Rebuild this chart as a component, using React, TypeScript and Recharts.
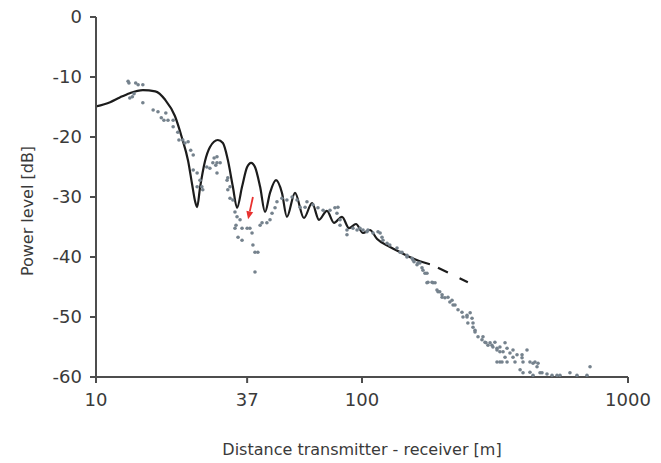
import {
  ComposedChart,
  Line,
  Scatter,
  XAxis,
  YAxis,
  ReferenceLine,
  Label,
} from 'recharts'

// Distance [m] / power level [dB]
const modelCurve: [number, number][] = [
  [10, -14.9], [11.3, -14.2], [12.3, -13.4], [13.4, -12.7], [15.0, -12.2],
  [16.7, -12.4], [18.2, -13.8], [19.8, -16.5], [21.0, -20], [22.2, -24],
  [23.0, -28], [23.6, -30.8], [24.0, -31.7], [24.6, -28.5], [25.7, -24],
  [26.8, -21.7], [28.7, -20.5], [30.0, -21], [31.3, -23.8], [32.7, -28.3],
  [33.9, -31.8], [35.4, -28.3], [37.0, -25], [38.3, -24.3], [39.6, -25],
  [41.4, -28.3], [43.2, -32.5], [45.1, -29.3], [47.5, -27.2], [50.0, -29.3],
  [52.2, -33.3], [56.0, -29.3], [60.5, -33.5], [64.9, -31], [68.9, -33.8],
  [73.8, -32.3], [78.5, -34.3], [84.1, -33.3], [89.4, -35.2], [94.9, -34.5],
  [100.9, -36], [107, -35.5], [114, -37], [127, -38.3], [139, -39.2],
  [151, -40], [165, -40.7], [180, -41.2],
]

const modelExtrapolated: [number, number][] = [
  [193, -41.8], [250, -44.2],
]

const measured: [number, number][] = [
  [13.2, -10.7], [13.3, -11.0], [14.1, -11.0], [14.4, -11.3], [15.0, -11.3],
  [13.7, -13.3], [13.4, -13.5], [13.9, -12.8], [15.0, -14.3], [16.4, -15.5],
  [17.1, -15.8], [17.6, -16.8], [18.3, -16.0], [18.0, -17.2], [18.65, -17.2],
  [19.5, -17.2], [19.5, -18.3], [20.3, -19.2], [20.5, -20.5], [21.2, -20.5],
  [21.6, -21.0], [22.2, -20.8], [22.7, -22.2], [23.2, -23.0], [23.2, -25.5],
  [24.0, -26.0], [24.6, -27.2], [25.0, -28.3], [24.0, -28.3], [25.2, -28.8],
  [26.1, -25.0], [26.8, -25.2], [27.5, -24.3], [28.5, -24.3], [28.5, -23.3],
  [27.8, -23.5], [28.2, -24.7], [29.3, -24.3], [28.5, -26.0], [31.1, -27.2],
  [31.3, -26.8], [31.3, -28.8], [31.9, -28.3], [31.9, -30.2], [32.7, -30.5],
  [33.3, -32.5], [33.9, -33.3], [34.8, -33.8], [33.6, -34.7], [33.3, -35.2],
  [35.4, -35.2], [37.0, -35.2], [37.9, -35.2], [34.2, -36.7], [35.4, -37.2],
  [38.6, -36.0], [38.9, -38.0], [39.6, -39.2], [40.6, -39.2], [39.6, -42.5],
  [41.4, -34.7], [42.1, -34.3], [43.9, -34.3], [45.1, -33.8], [45.9, -32.7],
  [47.1, -31.8], [47.9, -30.8], [50.0, -30.2], [52.2, -30.5], [54.6, -30.0],
  [57.0, -30.5], [58.5, -31.7], [61.1, -31.7], [62.1, -30.8], [65.4, -31.3],
  [68.3, -31.8], [71.4, -32.2], [75.8, -32.2], [79.1, -31.8], [81.2, -31.7],
  [80.5, -32.7], [82.7, -33.8], [82.7, -34.7], [87.8, -35.5], [87.8, -36.3],
  [92.5, -35.2], [95.8, -35.5], [98.3, -35.2], [100.9, -35.5], [104.4, -35.8],
  [105.3, -35.5], [110, -36.0], [114.9, -35.8], [117, -36.0], [118.9, -36.7],
  [119.9, -37.2], [124.2, -37.7], [127.2, -38.0], [135.4, -38.5], [139, -39.2],
  [141.4, -39.2], [147.6, -39.7], [147.6, -40.0], [154.2, -40.2], [155.5, -40.5],
  [156.9, -40.8], [162.3, -41.0], [165, -41.0], [161, -41.3], [168.1, -41.8],
  [169.5, -42.2], [172.5, -42.7], [175.5, -42.7], [175.5, -44.3], [177, -44.2],
  [183.3, -44.2], [184.9, -44.3], [188.2, -44.3], [191.4, -45.5], [193.1, -45.8],
  [196, -45.8], [200, -46.7], [200, -46.3], [205, -46.8], [210.5, -46.7],
  [214, -47.5], [218, -47.2], [220, -48.0], [223.7, -48.0], [229.6, -48.8],
  [237.6, -49.2], [239.7, -50.0], [248.2, -50.0], [248.2, -49.7], [255, -49.3],
  [259.2, -50.2], [261.4, -51.0], [250, -51.0], [261.4, -51.7], [266, -52.2],
  [266, -52.5], [273, -53.3], [282.5, -53.8], [285, -53.3], [290, -54.2],
  [292.5, -54.3], [297.6, -54.7], [303, -54.3], [308, -54.7], [310.6, -55.0],
  [316, -54.2], [321.8, -55.2], [321.8, -55.5], [330, -55.0], [330, -55.8],
  [321.8, -57.5], [330, -57.5], [336, -57.5], [339, -55.8], [344.9, -54.3],
  [344.9, -56.7], [351, -55.2], [351, -57.5], [360, -56.0], [369.6, -55.5],
  [369.6, -56.7], [376, -57.5], [382.6, -56.3], [393, -58.8], [399.6, -56.3],
  [399.6, -56.8], [403, -57.5], [403, -59.3], [417.2, -55.5], [428, -57.5],
  [428, -59.2], [439.5, -57.7], [439.5, -59.7], [447, -57.5], [455, -58.3],
  [459, -57.7], [467, -59.3], [475, -59.3], [496, -59.5], [518, -59.7],
  [541, -59.7], [555, -59.7], [605, -59.3], [643, -59.7], [701, -59.7],
  [720, -58.3],
]

const xTicks = [10, 37, 100, 1000]
const yTicks = [-60, -50, -40, -30, -20, -10, 0]

const arrowSegment = [
  { x: 38.9, y: -30.0 },
  { x: 37.3, y: -33.7 },
]

const toRows = (pts: [number, number][]) => pts.map(([x, y]) => ({ x, y }))

const AXIS = '#4d4d4d'
const TEXT = '#3a3a3a'
const FONT = 'DejaVu Sans'

function Arrow(props: any) {
  const { x1, y1, x2, y2 } = props
  const dx = x2 - x1
  const dy = y2 - y1
  const len = Math.sqrt(dx * dx + dy * dy) || 1
  const ux = dx / len
  const uy = dy / len
  const head = 8
  const bx = x2 - ux * head
  const by = y2 - uy * head
  const px = -uy * 3.5
  const py = ux * 3.5
  return (
    <g>
      <line x1={x1} y1={y1} x2={bx} y2={by} stroke="#e8312f" strokeWidth={1.8} />
      <polygon
        points={`${x2},${y2} ${bx + px},${by + py} ${bx - px},${by - py}`}
        fill="#e8312f"
      />
    </g>
  )
}

export default function App() {
  return (
    <div style={{ width: 661, height: 463, background: '#fff' }}>
      <style>{'body{margin:0}'}</style>
      <ComposedChart
        width={661}
        height={463}
        margin={{ top: 17, right: 33, left: 0, bottom: 0 }}
      >
        <XAxis
          type="number"
          dataKey="x"
          scale="log"
          domain={[10, 1000]}
          ticks={xTicks}
          allowDataOverflow
          height={86}
          stroke={AXIS}
          strokeWidth={2}
          tickSize={6}
          tickMargin={10}
          tick={{ fill: TEXT, fontSize: 18, fontFamily: FONT }}
        >
          <Label
            value="Distance transmitter - receiver [m]"
            position="insideBottom"
            offset={8}
            style={{ fill: TEXT, fontSize: 16, fontFamily: FONT }}
          />
        </XAxis>
        <YAxis
          type="number"
          dataKey="y"
          domain={[-60, 0]}
          ticks={yTicks}
          allowDataOverflow
          width={96}
          stroke={AXIS}
          strokeWidth={2}
          tickSize={6}
          tickMargin={8}
          tick={{ fill: TEXT, fontSize: 18, fontFamily: FONT }}
        >
          <Label
            content={() => (
              <text
                x={27}
                y={211}
                transform="rotate(-90 27 211)"
                textAnchor="middle"
                dominantBaseline="central"
                fill={TEXT}
                fontSize={16}
                fontFamily={FONT}
              >
                Power level [dB]
              </text>
            )}
          />
        </YAxis>
        <Scatter
          data={toRows(measured)}
          dataKey="y"
          fill="#75828d"
          isAnimationActive={false}
          shape={(p: any) => <circle cx={p.cx} cy={p.cy} r={1.8} fill="#75828d" />}
        />
        <Line
          data={toRows(modelCurve)}
          dataKey="y"
          type="monotoneX"
          stroke="#1c1c1c"
          strokeWidth={2.2}
          dot={false}
          isAnimationActive={false}
        />
        <Line
          data={toRows(modelExtrapolated)}
          dataKey="y"
          type="linear"
          stroke="#1c1c1c"
          strokeWidth={2.2}
          strokeDasharray="11 13 11"
          dot={false}
          isAnimationActive={false}
        />
        <ReferenceLine segment={arrowSegment} shape={Arrow} />
      </ComposedChart>
    </div>
  )
}
